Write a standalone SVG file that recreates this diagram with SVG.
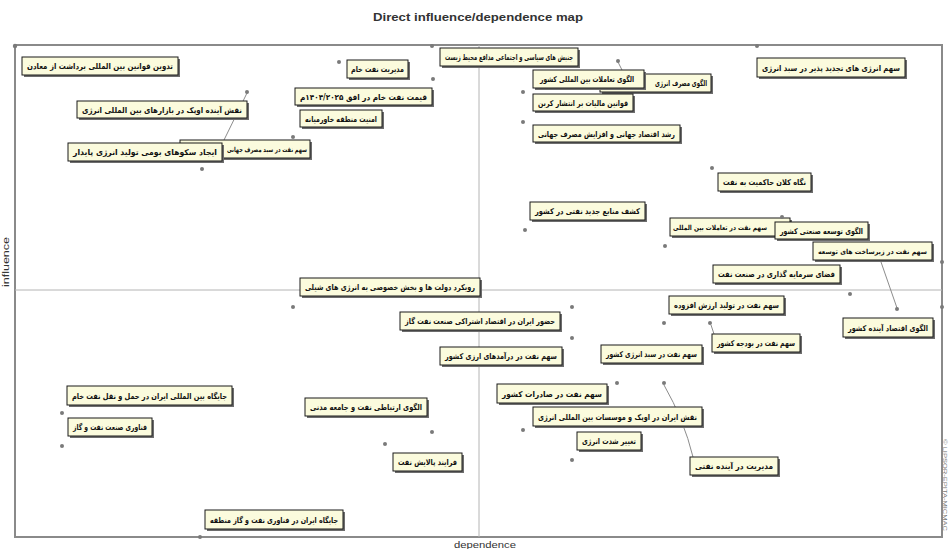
<svg xmlns="http://www.w3.org/2000/svg" width="949" height="549" viewBox="0 0 949 549">
<style>
.frame{fill:none;stroke:#8a8a8a;stroke-width:2}
.axis{stroke:#b4b4b4;stroke-width:1}
.sh{fill:#6d6d6d}
.bx{fill:#fbfbdd;stroke:#1a1a1a;stroke-width:1}
.lbl{font-family:"DejaVu Sans",sans-serif;font-size:8px;font-weight:bold;fill:#111;text-anchor:middle}
.sm{font-size:7px}
.pt{fill:#7a7a7a}
.ld{fill:none;stroke:#8c8c8c;stroke-width:1}
.ttl{font-family:"Liberation Sans",Arial,sans-serif;font-size:10px;font-weight:bold;fill:#333;text-anchor:middle}
.ax{font-family:"Liberation Sans",Arial,sans-serif;font-size:9px;fill:#333;text-anchor:middle}
</style>
<rect width="949" height="549" fill="#fff"/>
<text class="ttl" x="478" y="21" textLength="210" lengthAdjust="spacingAndGlyphs">Direct influence/dependence map</text>
<rect class="frame" x="15" y="45" width="927" height="492"/>
<line class="axis" x1="479" y1="45" x2="479" y2="537"/>
<line class="axis" x1="15" y1="290" x2="942" y2="290"/>
<text class="ax" x="485" y="548" textLength="62" lengthAdjust="spacingAndGlyphs">dependence</text>
<text class="ax" transform="translate(9,262) rotate(-90)" font-size="7" fill="#667" textLength="50" lengthAdjust="spacingAndGlyphs">influence</text>
<text transform="translate(943,485) rotate(90)" font-family="Liberation Sans,Arial,sans-serif" font-size="6" fill="#777" text-anchor="middle" textLength="92" lengthAdjust="spacingAndGlyphs">© LIPSOR-EPITA-MICMAC</text>
<g id="connectors">
<line class="ld" x1="247" y1="93" x2="224" y2="140"/>
<line class="ld" x1="881" y1="262" x2="897" y2="308"/>
<line class="ld" x1="711" y1="325" x2="714" y2="334"/>
<path class="ld" d="M664,385 Q684,420 693,457"/>
<line class="ld" x1="618" y1="62" x2="622" y2="70"/>
<circle class="pt" cx="942" cy="307" r="2"/>
</g>
<g id="n1"><circle class="pt" cx="15" cy="46" r="2.2"/><rect class="sh" x="24" y="59" width="156" height="18"/><rect class="bx" x="22" y="57" width="156" height="18"/><text class="lbl" x="100" y="69" textLength="146" lengthAdjust="spacingAndGlyphs">تدوین قوانین بین المللی برداشت از معادن</text></g>
<g id="n2"><circle class="pt" cx="247" cy="92" r="2"/><rect class="sh" x="79" y="103" width="170" height="17"/><rect class="bx" x="77" y="101" width="170" height="17"/><text class="lbl" x="162" y="112.5" textLength="160" lengthAdjust="spacingAndGlyphs">نقش آینده اوپک در بازارهای بین المللی انرژی</text></g>
<g id="n4"><circle class="pt" cx="293" cy="137" r="2"/><rect class="sh" x="182" y="142" width="130" height="18"/><rect class="bx" x="180" y="140" width="130" height="18"/><text class="lbl sm" x="267" y="152" textLength="80" lengthAdjust="spacingAndGlyphs">سهم نفت در سبد مصرف جهانی</text></g>
<g id="n3"><circle class="pt" cx="202" cy="169" r="2"/><rect class="sh" x="70" y="145" width="154" height="18"/><rect class="bx" x="68" y="143" width="154" height="18"/><text class="lbl" x="145" y="155" textLength="144" lengthAdjust="spacingAndGlyphs">ایجاد سکوهای بومی تولید انرژی پایدار</text></g>
<g id="n5"><circle class="pt" cx="339" cy="62" r="2"/><rect class="sh" x="349" y="62" width="61" height="18"/><rect class="bx" x="347" y="60" width="61" height="18"/><text class="lbl" x="377.5" y="72" textLength="53" lengthAdjust="spacingAndGlyphs">مدیریت نفت خام</text></g>
<g id="n6"><circle class="pt" cx="433" cy="79" r="2"/><rect class="sh" x="297" y="90" width="137" height="17"/><rect class="bx" x="295" y="88" width="137" height="17"/><text class="lbl" x="363.5" y="99.5" textLength="127" lengthAdjust="spacingAndGlyphs">قیمت نفت خام در افق ۱۴۰۴/۲۰۲۵م</text></g>
<g id="n7"><rect class="sh" x="302" y="112" width="82" height="17"/><rect class="bx" x="300" y="110" width="82" height="17"/><text class="lbl" x="341" y="121.5" textLength="72" lengthAdjust="spacingAndGlyphs">امنیت منطقه خاورمیانه</text></g>
<g id="n8"><circle class="pt" cx="432" cy="46" r="2"/><rect class="sh" x="442" y="50" width="138" height="18"/><rect class="bx" x="440" y="48" width="138" height="18"/><text class="lbl" x="509" y="60" textLength="128" lengthAdjust="spacingAndGlyphs">جنبش های سیاسی و اجتماعی مدافع محیط زیست</text></g>
<g id="n10"><rect class="sh" x="602" y="76" width="111" height="18"/><rect class="bx" x="600" y="74" width="111" height="18"/><text class="lbl" x="681" y="86" textLength="52" lengthAdjust="spacingAndGlyphs">الگوی مصرف انرژی</text></g>
<g id="n9"><circle class="pt" cx="618" cy="61" r="2"/><rect class="sh" x="535" y="72" width="111" height="18"/><rect class="bx" x="533" y="70" width="111" height="18"/><text class="lbl" x="587" y="82" textLength="94" lengthAdjust="spacingAndGlyphs">الگوی تعاملات بین المللی کشور</text></g>
<g id="n11"><circle class="pt" cx="523" cy="92" r="2"/><rect class="sh" x="535" y="96" width="100" height="17"/><rect class="bx" x="533" y="94" width="100" height="17"/><text class="lbl" x="583" y="105.5" textLength="90" lengthAdjust="spacingAndGlyphs">قوانین مالیات بر انتشار کربن</text></g>
<g id="n12"><circle class="pt" cx="523" cy="122" r="2"/><rect class="sh" x="535" y="127" width="147" height="17"/><rect class="bx" x="533" y="125" width="147" height="17"/><text class="lbl" x="606.5" y="136.5" textLength="137" lengthAdjust="spacingAndGlyphs">رشد اقتصاد جهانی و افزایش مصرف جهانی</text></g>
<g id="n13"><circle class="pt" cx="757" cy="46" r="2"/><rect class="sh" x="759" y="60" width="148" height="19"/><rect class="bx" x="757" y="58" width="148" height="19"/><text class="lbl" x="831" y="70.5" textLength="138" lengthAdjust="spacingAndGlyphs">سهم انرژی های تجدید پذیر در سبد انرژی</text></g>
<g id="n14"><circle class="pt" cx="712" cy="168" r="2"/><rect class="sh" x="720" y="175" width="93" height="18"/><rect class="bx" x="718" y="173" width="93" height="18"/><text class="lbl" x="764.5" y="185" textLength="83" lengthAdjust="spacingAndGlyphs">نگاه کلان حاکمیت به نفت</text></g>
<g id="n15"><circle class="pt" cx="525" cy="230" r="2"/><rect class="sh" x="532" y="204" width="115" height="18"/><rect class="bx" x="530" y="202" width="115" height="18"/><text class="lbl" x="587.5" y="214" textLength="105" lengthAdjust="spacingAndGlyphs">کشف منابع جدید نفتی در کشور</text></g>
<g id="n16"><circle class="pt" cx="665" cy="246" r="2"/><rect class="sh" x="672" y="220" width="120" height="18"/><rect class="bx" x="670" y="218" width="120" height="18"/><text class="lbl sm" x="720" y="230" textLength="94" lengthAdjust="spacingAndGlyphs">سهم نفت در تعاملات بین المللی</text></g>
<g id="n17"><circle class="pt" cx="782" cy="217" r="2"/><rect class="sh" x="777" y="224" width="93" height="17"/><rect class="bx" x="775" y="222" width="93" height="17"/><text class="lbl" x="821.5" y="233.5" textLength="83" lengthAdjust="spacingAndGlyphs">الگوی توسعه صنعتی کشور</text></g>
<g id="n18"><circle class="pt" cx="942" cy="262" r="2"/><rect class="sh" x="815" y="244" width="119" height="18"/><rect class="bx" x="813" y="242" width="119" height="18"/><text class="lbl sm" x="872.5" y="254" textLength="109" lengthAdjust="spacingAndGlyphs">سهم نفت در زیرساخت های توسعه</text></g>
<g id="n19"><circle class="pt" cx="850" cy="294" r="2"/><rect class="sh" x="715" y="267" width="127" height="18"/><rect class="bx" x="713" y="265" width="127" height="18"/><text class="lbl" x="776.5" y="277" textLength="117" lengthAdjust="spacingAndGlyphs">فضای سرمایه گذاری در صنعت نفت</text></g>
<g id="n20"><circle class="pt" cx="293" cy="307" r="2"/><rect class="sh" x="302" y="280" width="180" height="18"/><rect class="bx" x="300" y="278" width="180" height="18"/><text class="lbl" x="390" y="290" textLength="170" lengthAdjust="spacingAndGlyphs">رویکرد دولت ها و بخش خصوصی به انرژی های شیلی</text></g>
<g id="n21"><circle class="pt" cx="572" cy="307" r="2"/><rect class="sh" x="402" y="314" width="160" height="18"/><rect class="bx" x="400" y="312" width="160" height="18"/><text class="lbl" x="480" y="324" textLength="150" lengthAdjust="spacingAndGlyphs">حضور ایران در اقتصاد اشتراکی صنعت نفت گاز</text></g>
<g id="n22"><circle class="pt" cx="572" cy="338" r="2"/><rect class="sh" x="442" y="349" width="122" height="18"/><rect class="bx" x="440" y="347" width="122" height="18"/><text class="lbl" x="501" y="359" textLength="112" lengthAdjust="spacingAndGlyphs">سهم نفت در درآمدهای ارزی کشور</text></g>
<g id="n23"><circle class="pt" cx="664" cy="323" r="2"/><rect class="sh" x="671" y="298" width="115" height="18"/><rect class="bx" x="669" y="296" width="115" height="18"/><text class="lbl" x="726.5" y="308" textLength="105" lengthAdjust="spacingAndGlyphs">سهم نفت در تولید ارزش افزوده</text></g>
<g id="n24"><circle class="pt" cx="710" cy="323" r="2"/><rect class="sh" x="714" y="336" width="88" height="18"/><rect class="bx" x="712" y="334" width="88" height="18"/><text class="lbl" x="756" y="346" textLength="78" lengthAdjust="spacingAndGlyphs">سهم نفت در بودجه کشور</text></g>
<g id="n25"><rect class="sh" x="603" y="347" width="101" height="18"/><rect class="bx" x="601" y="345" width="101" height="18"/><text class="lbl" x="651.5" y="357" textLength="91" lengthAdjust="spacingAndGlyphs">سهم نفت در سبد انرژی کشور</text></g>
<g id="n26"><circle class="pt" cx="897" cy="309" r="2"/><rect class="sh" x="845" y="320" width="90" height="19"/><rect class="bx" x="843" y="318" width="90" height="19"/><text class="lbl" x="888" y="330.5" textLength="80" lengthAdjust="spacingAndGlyphs">الگوی اقتصاد آینده کشور</text></g>
<g id="n27"><circle class="pt" cx="617" cy="383" r="2"/><rect class="sh" x="499" y="386" width="110" height="19"/><rect class="bx" x="497" y="384" width="110" height="19"/><text class="lbl" x="552" y="396.5" textLength="100" lengthAdjust="spacingAndGlyphs">سهم نفت در صادرات کشور</text></g>
<g id="n28"><circle class="pt" cx="523" cy="430" r="2"/><rect class="sh" x="535" y="409" width="169" height="19"/><rect class="bx" x="533" y="407" width="169" height="19"/><text class="lbl" x="617.5" y="419.5" textLength="159" lengthAdjust="spacingAndGlyphs">نقش ایران در اوپک و موسسات بین المللی انرژی</text></g>
<g id="n29"><circle class="pt" cx="572" cy="460" r="2"/><rect class="sh" x="579" y="434" width="64" height="18"/><rect class="bx" x="577" y="432" width="64" height="18"/><text class="lbl" x="609" y="444" textLength="54" lengthAdjust="spacingAndGlyphs">تغییر شدت انرژی</text></g>
<g id="n30"><circle class="pt" cx="664" cy="383" r="2"/><rect class="sh" x="692" y="459" width="88" height="18"/><rect class="bx" x="690" y="457" width="88" height="18"/><text class="lbl" x="734" y="469" textLength="78" lengthAdjust="spacingAndGlyphs">مدیریت در آینده نفتی</text></g>
<g id="n31"><circle class="pt" cx="432" cy="432" r="2"/><rect class="sh" x="307" y="400" width="122" height="18"/><rect class="bx" x="305" y="398" width="122" height="18"/><text class="lbl" x="366" y="410" textLength="112" lengthAdjust="spacingAndGlyphs">الگوی ارتباطی نفت و جامعه مدنی</text></g>
<g id="n32"><circle class="pt" cx="385" cy="444" r="2"/><rect class="sh" x="395" y="455" width="69" height="18"/><rect class="bx" x="393" y="453" width="69" height="18"/><text class="lbl" x="427.5" y="465" textLength="59" lengthAdjust="spacingAndGlyphs">فرایند پالایش نفت</text></g>
<g id="n33"><circle class="pt" cx="62" cy="413" r="2"/><rect class="sh" x="69" y="388" width="165" height="19"/><rect class="bx" x="67" y="386" width="165" height="19"/><text class="lbl" x="149.5" y="398.5" textLength="155" lengthAdjust="spacingAndGlyphs">جایگاه بین المللی ایران در حمل و نقل نفت خام</text></g>
<g id="n34"><circle class="pt" cx="62" cy="446" r="2"/><rect class="sh" x="70" y="420" width="84" height="18"/><rect class="bx" x="68" y="418" width="84" height="18"/><text class="lbl" x="110" y="430" textLength="74" lengthAdjust="spacingAndGlyphs">فناوری صنعت نفت و گاز</text></g>
<g id="n35"><circle class="pt" cx="200" cy="537" r="2"/><rect class="sh" x="207" y="512" width="138" height="19"/><rect class="bx" x="205" y="510" width="138" height="19"/><text class="lbl" x="274" y="522.5" textLength="128" lengthAdjust="spacingAndGlyphs">جایگاه ایران در فناوری نفت و گاز منطقه</text></g>
</svg>
